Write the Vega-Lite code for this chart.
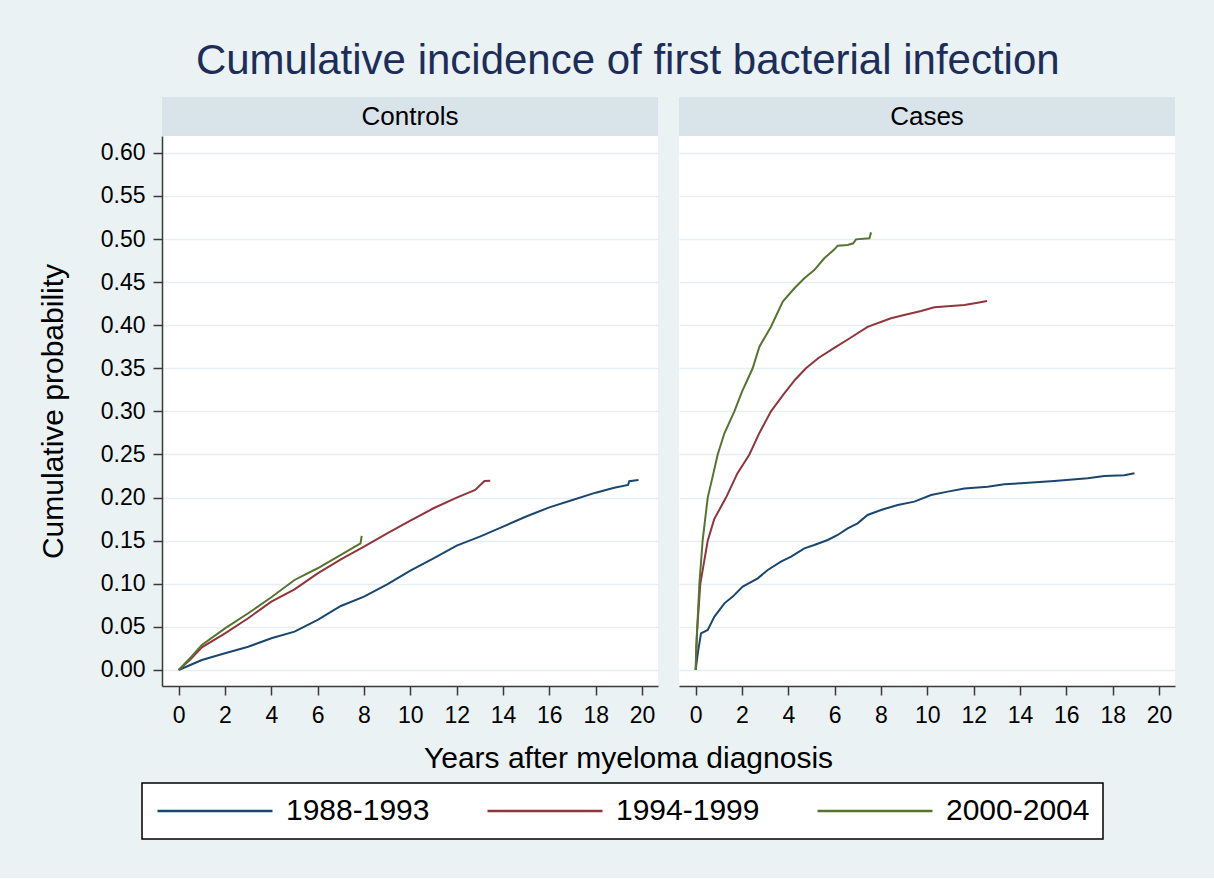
{
  "$schema": "https://vega.github.io/schema/vega-lite/v6.json",
  "background": "#eaf2f3",
  "padding": {"left": 38, "top": 40, "right": 40, "bottom": 38},
  "title": {
    "text": "Cumulative incidence of first bacterial infection",
    "font": "Liberation Sans",
    "fontSize": 42,
    "fontWeight": "normal",
    "color": "#1c2d5a",
    "anchor": "middle",
    "baseline": "alphabetic",
    "dx": 21,
    "offset": -19
  },
  "datasets": {
    "curves": [
      {"panel": "Controls", "period": "1988-1993", "t": 0, "p": 0},
      {"panel": "Controls", "period": "1988-1993", "t": 1, "p": 0.0116},
      {"panel": "Controls", "period": "1988-1993", "t": 2, "p": 0.0193},
      {"panel": "Controls", "period": "1988-1993", "t": 3, "p": 0.027},
      {"panel": "Controls", "period": "1988-1993", "t": 4, "p": 0.0368},
      {"panel": "Controls", "period": "1988-1993", "t": 5, "p": 0.0445},
      {"panel": "Controls", "period": "1988-1993", "t": 6, "p": 0.058},
      {"panel": "Controls", "period": "1988-1993", "t": 7, "p": 0.0742},
      {"panel": "Controls", "period": "1988-1993", "t": 8, "p": 0.085},
      {"panel": "Controls", "period": "1988-1993", "t": 9, "p": 0.0994},
      {"panel": "Controls", "period": "1988-1993", "t": 10, "p": 0.1152},
      {"panel": "Controls", "period": "1988-1993", "t": 11, "p": 0.1295},
      {"panel": "Controls", "period": "1988-1993", "t": 12, "p": 0.1442},
      {"panel": "Controls", "period": "1988-1993", "t": 13, "p": 0.1547},
      {"panel": "Controls", "period": "1988-1993", "t": 14, "p": 0.1663},
      {"panel": "Controls", "period": "1988-1993", "t": 15, "p": 0.178},
      {"panel": "Controls", "period": "1988-1993", "t": 16, "p": 0.1887},
      {"panel": "Controls", "period": "1988-1993", "t": 17, "p": 0.1972},
      {"panel": "Controls", "period": "1988-1993", "t": 18, "p": 0.2057},
      {"panel": "Controls", "period": "1988-1993", "t": 18.8, "p": 0.2115},
      {"panel": "Controls", "period": "1988-1993", "t": 19.4, "p": 0.2146},
      {"panel": "Controls", "period": "1988-1993", "t": 19.45, "p": 0.219},
      {"panel": "Controls", "period": "1988-1993", "t": 19.85, "p": 0.2204},
      {"panel": "Controls", "period": "1994-1999", "t": 0, "p": 0},
      {"panel": "Controls", "period": "1994-1999", "t": 0.5, "p": 0.012},
      {"panel": "Controls", "period": "1994-1999", "t": 1, "p": 0.0263},
      {"panel": "Controls", "period": "1994-1999", "t": 2, "p": 0.0425},
      {"panel": "Controls", "period": "1994-1999", "t": 3, "p": 0.06},
      {"panel": "Controls", "period": "1994-1999", "t": 4, "p": 0.0793},
      {"panel": "Controls", "period": "1994-1999", "t": 5, "p": 0.0936},
      {"panel": "Controls", "period": "1994-1999", "t": 6, "p": 0.1121},
      {"panel": "Controls", "period": "1994-1999", "t": 7, "p": 0.1284},
      {"panel": "Controls", "period": "1994-1999", "t": 8, "p": 0.143},
      {"panel": "Controls", "period": "1994-1999", "t": 9, "p": 0.1586},
      {"panel": "Controls", "period": "1994-1999", "t": 10, "p": 0.1732},
      {"panel": "Controls", "period": "1994-1999", "t": 11, "p": 0.1876},
      {"panel": "Controls", "period": "1994-1999", "t": 12, "p": 0.1999},
      {"panel": "Controls", "period": "1994-1999", "t": 12.8, "p": 0.2088},
      {"panel": "Controls", "period": "1994-1999", "t": 13.2, "p": 0.2193},
      {"panel": "Controls", "period": "1994-1999", "t": 13.45, "p": 0.2196},
      {"panel": "Controls", "period": "2000-2004", "t": 0, "p": 0},
      {"panel": "Controls", "period": "2000-2004", "t": 0.5, "p": 0.014},
      {"panel": "Controls", "period": "2000-2004", "t": 1, "p": 0.029},
      {"panel": "Controls", "period": "2000-2004", "t": 2, "p": 0.0483},
      {"panel": "Controls", "period": "2000-2004", "t": 3, "p": 0.0658},
      {"panel": "Controls", "period": "2000-2004", "t": 4, "p": 0.0843},
      {"panel": "Controls", "period": "2000-2004", "t": 5, "p": 0.1044},
      {"panel": "Controls", "period": "2000-2004", "t": 6, "p": 0.118},
      {"panel": "Controls", "period": "2000-2004", "t": 7, "p": 0.1334},
      {"panel": "Controls", "period": "2000-2004", "t": 7.85, "p": 0.147},
      {"panel": "Controls", "period": "2000-2004", "t": 7.9, "p": 0.1555},
      {"panel": "Cases", "period": "1988-1993", "t": 0, "p": 0},
      {"panel": "Cases", "period": "1988-1993", "t": 0.09, "p": 0.0193},
      {"panel": "Cases", "period": "1988-1993", "t": 0.23, "p": 0.0425},
      {"panel": "Cases", "period": "1988-1993", "t": 0.52, "p": 0.0464},
      {"panel": "Cases", "period": "1988-1993", "t": 0.81, "p": 0.0619},
      {"panel": "Cases", "period": "1988-1993", "t": 1.24, "p": 0.0773},
      {"panel": "Cases", "period": "1988-1993", "t": 1.6, "p": 0.0851},
      {"panel": "Cases", "period": "1988-1993", "t": 2.03, "p": 0.0967},
      {"panel": "Cases", "period": "1988-1993", "t": 2.68, "p": 0.1063},
      {"panel": "Cases", "period": "1988-1993", "t": 3.11, "p": 0.116},
      {"panel": "Cases", "period": "1988-1993", "t": 3.68, "p": 0.1257},
      {"panel": "Cases", "period": "1988-1993", "t": 4.12, "p": 0.1315},
      {"panel": "Cases", "period": "1988-1993", "t": 4.69, "p": 0.1411},
      {"panel": "Cases", "period": "1988-1993", "t": 5.12, "p": 0.145},
      {"panel": "Cases", "period": "1988-1993", "t": 5.7, "p": 0.1508},
      {"panel": "Cases", "period": "1988-1993", "t": 6.13, "p": 0.1566},
      {"panel": "Cases", "period": "1988-1993", "t": 6.56, "p": 0.1643},
      {"panel": "Cases", "period": "1988-1993", "t": 6.99, "p": 0.1701},
      {"panel": "Cases", "period": "1988-1993", "t": 7.42, "p": 0.1798},
      {"panel": "Cases", "period": "1988-1993", "t": 8.0, "p": 0.1856},
      {"panel": "Cases", "period": "1988-1993", "t": 8.72, "p": 0.1914},
      {"panel": "Cases", "period": "1988-1993", "t": 9.44, "p": 0.1953},
      {"panel": "Cases", "period": "1988-1993", "t": 10.16, "p": 0.203},
      {"panel": "Cases", "period": "1988-1993", "t": 10.88, "p": 0.2069},
      {"panel": "Cases", "period": "1988-1993", "t": 11.6, "p": 0.2104},
      {"panel": "Cases", "period": "1988-1993", "t": 12.6, "p": 0.2127},
      {"panel": "Cases", "period": "1988-1993", "t": 13.32, "p": 0.2154},
      {"panel": "Cases", "period": "1988-1993", "t": 14.04, "p": 0.2166},
      {"panel": "Cases", "period": "1988-1993", "t": 15.48, "p": 0.2193},
      {"panel": "Cases", "period": "1988-1993", "t": 16.92, "p": 0.2223},
      {"panel": "Cases", "period": "1988-1993", "t": 17.64, "p": 0.2251},
      {"panel": "Cases", "period": "1988-1993", "t": 18.5, "p": 0.2258},
      {"panel": "Cases", "period": "1988-1993", "t": 18.94, "p": 0.2282},
      {"panel": "Cases", "period": "1994-1999", "t": 0, "p": 0},
      {"panel": "Cases", "period": "1994-1999", "t": 0.06, "p": 0.045},
      {"panel": "Cases", "period": "1994-1999", "t": 0.2, "p": 0.1},
      {"panel": "Cases", "period": "1994-1999", "t": 0.52, "p": 0.15},
      {"panel": "Cases", "period": "1994-1999", "t": 0.8, "p": 0.175},
      {"panel": "Cases", "period": "1994-1999", "t": 1.31, "p": 0.2},
      {"panel": "Cases", "period": "1994-1999", "t": 1.8, "p": 0.228},
      {"panel": "Cases", "period": "1994-1999", "t": 2.32, "p": 0.25},
      {"panel": "Cases", "period": "1994-1999", "t": 2.75, "p": 0.275},
      {"panel": "Cases", "period": "1994-1999", "t": 3.25, "p": 0.3},
      {"panel": "Cases", "period": "1994-1999", "t": 3.8, "p": 0.32},
      {"panel": "Cases", "period": "1994-1999", "t": 4.3, "p": 0.337},
      {"panel": "Cases", "period": "1994-1999", "t": 4.76, "p": 0.35},
      {"panel": "Cases", "period": "1994-1999", "t": 5.3, "p": 0.362},
      {"panel": "Cases", "period": "1994-1999", "t": 6.0, "p": 0.374},
      {"panel": "Cases", "period": "1994-1999", "t": 6.6, "p": 0.384},
      {"panel": "Cases", "period": "1994-1999", "t": 7.42, "p": 0.398},
      {"panel": "Cases", "period": "1994-1999", "t": 8.43, "p": 0.408},
      {"panel": "Cases", "period": "1994-1999", "t": 9.0, "p": 0.4118},
      {"panel": "Cases", "period": "1994-1999", "t": 9.73, "p": 0.4165},
      {"panel": "Cases", "period": "1994-1999", "t": 10.3, "p": 0.4207},
      {"panel": "Cases", "period": "1994-1999", "t": 11.02, "p": 0.4223},
      {"panel": "Cases", "period": "1994-1999", "t": 11.6, "p": 0.4234},
      {"panel": "Cases", "period": "1994-1999", "t": 12.17, "p": 0.4261},
      {"panel": "Cases", "period": "1994-1999", "t": 12.58, "p": 0.428},
      {"panel": "Cases", "period": "2000-2004", "t": 0, "p": 0},
      {"panel": "Cases", "period": "2000-2004", "t": 0.03, "p": 0.03},
      {"panel": "Cases", "period": "2000-2004", "t": 0.07, "p": 0.05},
      {"panel": "Cases", "period": "2000-2004", "t": 0.16, "p": 0.1},
      {"panel": "Cases", "period": "2000-2004", "t": 0.3, "p": 0.15},
      {"panel": "Cases", "period": "2000-2004", "t": 0.52, "p": 0.2},
      {"panel": "Cases", "period": "2000-2004", "t": 0.73, "p": 0.224},
      {"panel": "Cases", "period": "2000-2004", "t": 0.95, "p": 0.25},
      {"panel": "Cases", "period": "2000-2004", "t": 1.24, "p": 0.2746},
      {"panel": "Cases", "period": "2000-2004", "t": 1.67, "p": 0.3},
      {"panel": "Cases", "period": "2000-2004", "t": 2.0, "p": 0.323},
      {"panel": "Cases", "period": "2000-2004", "t": 2.46, "p": 0.35},
      {"panel": "Cases", "period": "2000-2004", "t": 2.75, "p": 0.3751},
      {"panel": "Cases", "period": "2000-2004", "t": 3.25, "p": 0.3983},
      {"panel": "Cases", "period": "2000-2004", "t": 3.76, "p": 0.4273},
      {"panel": "Cases", "period": "2000-2004", "t": 4.26, "p": 0.4428},
      {"panel": "Cases", "period": "2000-2004", "t": 4.69, "p": 0.4544},
      {"panel": "Cases", "period": "2000-2004", "t": 5.12, "p": 0.464},
      {"panel": "Cases", "period": "2000-2004", "t": 5.55, "p": 0.4776},
      {"panel": "Cases", "period": "2000-2004", "t": 5.99, "p": 0.488},
      {"panel": "Cases", "period": "2000-2004", "t": 6.13, "p": 0.4923},
      {"panel": "Cases", "period": "2000-2004", "t": 6.56, "p": 0.493},
      {"panel": "Cases", "period": "2000-2004", "t": 6.8, "p": 0.495},
      {"panel": "Cases", "period": "2000-2004", "t": 6.92, "p": 0.4996},
      {"panel": "Cases", "period": "2000-2004", "t": 7.5, "p": 0.5008},
      {"panel": "Cases", "period": "2000-2004", "t": 7.57, "p": 0.5077}
    ]
  },
  "concat": [
    {
      "data": {"values": [{"panel": "Controls"}]},
      "width": 496,
      "height": 39,
      "view": {"fill": "#d9e4ea", "stroke": null},
      "mark": {"type": "text", "font": "Liberation Sans", "fontSize": 26, "color": "#000000", "baseline": "middle", "align": "center"},
      "encoding": {"text": {"field": "panel"}}
    },
    {
      "data": {"values": [{"panel": "Cases"}]},
      "width": 496,
      "height": 39,
      "view": {"fill": "#d9e4ea", "stroke": null},
      "mark": {"type": "text", "font": "Liberation Sans", "fontSize": 26, "color": "#000000", "baseline": "middle", "align": "center"},
      "encoding": {"text": {"field": "panel"}}
    },
    {
      "data": {"name": "curves"},
      "transform": [{"filter": "datum.panel == 'Controls'"}],
      "width": 496,
      "height": 550,
      "view": {"fill": "#ffffff", "stroke": null},
      "mark": {"type": "line", "strokeWidth": 2},
      "encoding": {
        "x": {
          "field": "t", "type": "quantitative",
          "scale": {"domain": [-0.72, 20.69], "nice": false, "zero": false},
          "axis": {
            "values": [0, 2, 4, 6, 8, 10, 12, 14, 16, 18, 20],
            "grid": false,
            "title": "Years after myeloma diagnosis",
            "titleX": 466,
            "titleY": 81,
            "titleBaseline": "alphabetic",
            "titleAlign": "center",
            "labelPadding": 9
          }
        },
        "y": {
          "field": "p", "type": "quantitative",
          "scale": {"domain": [-0.0186, 0.6195], "nice": false, "zero": false},
          "axis": {
            "values": [0, 0.05, 0.1, 0.15, 0.2, 0.25, 0.3, 0.35, 0.4, 0.45, 0.5, 0.55, 0.6],
            "format": ".2f",
            "grid": true,
            "title": "Cumulative probability",
            "titleX": -99.5,
            "titleY": 275,
            "titleAngle": 270,
            "titleBaseline": "alphabetic",
            "titleAlign": "center",
            "labelPadding": 8
          }
        },
        "color": {
          "field": "period", "type": "nominal",
          "scale": {"domain": ["1988-1993", "1994-1999", "2000-2004"], "range": ["#1a476f", "#90353b", "#55752f"]},
          "legend": {
            "orient": "none",
            "legendX": -20,
            "legendY": 686,
            "direction": "horizontal",
            "title": null
          }
        }
      }
    },
    {
      "data": {"name": "curves"},
      "transform": [{"filter": "datum.panel == 'Cases'"}],
      "width": 496,
      "height": 550,
      "view": {"fill": "#ffffff", "stroke": null},
      "mark": {"type": "line", "strokeWidth": 2},
      "encoding": {
        "x": {
          "field": "t", "type": "quantitative",
          "scale": {"domain": [-0.72, 20.69], "nice": false, "zero": false},
          "axis": {
            "values": [0, 2, 4, 6, 8, 10, 12, 14, 16, 18, 20],
            "grid": false,
            "title": null,
            "labelPadding": 9
          }
        },
        "y": {
          "field": "p", "type": "quantitative",
          "scale": {"domain": [-0.0186, 0.6195], "nice": false, "zero": false},
          "axis": {
            "values": [0, 0.05, 0.1, 0.15, 0.2, 0.25, 0.3, 0.35, 0.4, 0.45, 0.5, 0.55, 0.6],
            "grid": true,
            "domain": false,
            "ticks": false,
            "labels": false,
            "title": null
          }
        },
        "color": {
          "field": "period", "type": "nominal",
          "scale": {"domain": ["1988-1993", "1994-1999", "2000-2004"], "range": ["#1a476f", "#90353b", "#55752f"]},
          "legend": {
            "orient": "none",
            "legendX": -20,
            "legendY": 686,
            "direction": "horizontal",
            "title": null
          }
        }
      }
    }
  ],
  "columns": 2,
  "bounds": "flush",
  "spacing": {"row": 0, "column": 21},
  "resolve": {"scale": {"color": "shared"}},
  "config": {
    "font": "Liberation Sans",
    "view": {"stroke": null},
    "axis": {
      "labelFont": "Liberation Sans",
      "titleFont": "Liberation Sans",
      "labelColor": "#000000",
      "titleColor": "#000000",
      "labelFontSize": 23,
      "titleFontSize": 30,
      "titleFontWeight": "normal",
      "domainColor": "#3a3a3a",
      "tickColor": "#3a3a3a",
      "domainWidth": 1.5,
      "tickWidth": 1.5,
      "tickSize": 9,
      "gridColor": "#e6eef1",
      "gridWidth": 1.5
    },
    "legend": {
      "labelFont": "Liberation Sans",
      "labelFontSize": 30,
      "labelColor": "#000000",
      "labelOffset": 56,
      "symbolType": "M-5,0L5,0",
      "symbolSize": 529,
      "symbolOffset": 45,
      "symbolStrokeWidth": 2.5,
      "symbolFillColor": "transparent",
      "columnPadding": 52,
      "padding": 13,
      "strokeColor": "#000000",
      "fillColor": "#ffffff",
      "strokeWidth": 1.5
    }
  }
}
